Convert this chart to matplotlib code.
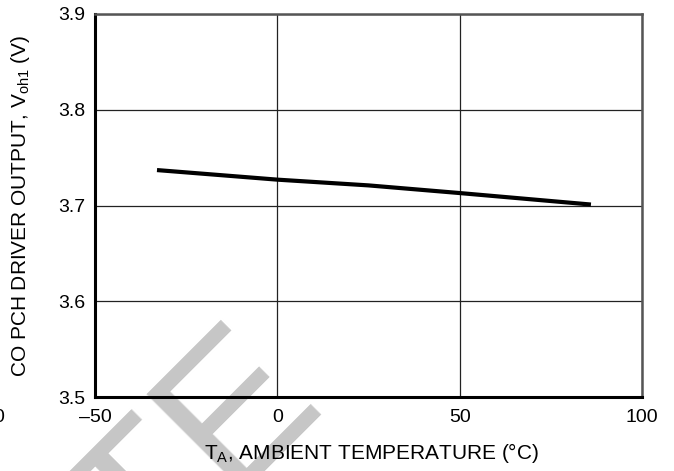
import matplotlib
matplotlib.use("Agg")
import matplotlib.pyplot as plt

# Ambient temperature (°C) and CO PCH driver output Voh1 (V)
temperature = [-33, 0, 25, 50, 86]
voh1 = [3.737, 3.727, 3.721, 3.713, 3.701]

x_ticks = [-50, 0, 50, 100]
x_tick_labels = ["\u201350", "0", "50", "100"]
y_ticks = [3.5, 3.6, 3.7, 3.8, 3.9]
y_tick_labels = ["3.5", "3.6", "3.7", "3.8", "3.9"]

plt.rcParams["font.family"] = ["Liberation Sans", "DejaVu Sans"]

W, H = 674, 471
fig = plt.figure(figsize=(W / 100, H / 100), dpi=100)
ax = fig.add_axes([95 / W, 1 - 397 / H, (642 - 95) / W, (397 - 14) / H])
ax.patch.set_alpha(0)
ax.set_zorder(2)

# background watermark, kept behind the axes and all labels
fig.text(326 / W, 1 - 401 / H, "OBSOLETE", rotation=45, rotation_mode="anchor",
         ha="right", va="baseline", fontsize=145, color="#c6c6c6", zorder=-5)
# clipped label from the neighbouring panel
fig.text(4 / W, 1 - 417 / H, "0", ha="right", va="center", fontsize=14,
         color="black", zorder=3)

ax.plot(temperature, voh1, color="black", lw=3.0, solid_capstyle="butt", zorder=3)

ax.set_xlim(-50, 100)
ax.set_ylim(3.5, 3.9)
ax.set_xticks(x_ticks)
ax.set_xticklabels(x_tick_labels)
ax.set_yticks(y_ticks)
ax.set_yticklabels(y_tick_labels)
ax.tick_params(length=0, labelsize=14)
ax.tick_params(axis="x", pad=9)
ax.tick_params(axis="y", pad=7)
ax.grid(True, color="#222222", lw=0.9, zorder=1)

for side in ("left", "bottom"):
    ax.spines[side].set_linewidth(2.2)
    ax.spines[side].set_color("black")
for side in ("top", "right"):
    ax.spines[side].set_linewidth(1.8)
    ax.spines[side].set_color("#555555")

ax.set_xlabel(r"T$_\mathregular{A}$, AMBIENT TEMPERATURE (°C)", fontsize=15)
ax.set_ylabel(r"CO PCH DRIVER OUTPUT, V$_\mathregular{oh1}$ (V)", fontsize=15)
ax.xaxis.set_label_coords(0.505, -0.115)
ax.yaxis.set_label_coords(-0.115, 0.5)

fig.savefig("out.png", dpi=100)
